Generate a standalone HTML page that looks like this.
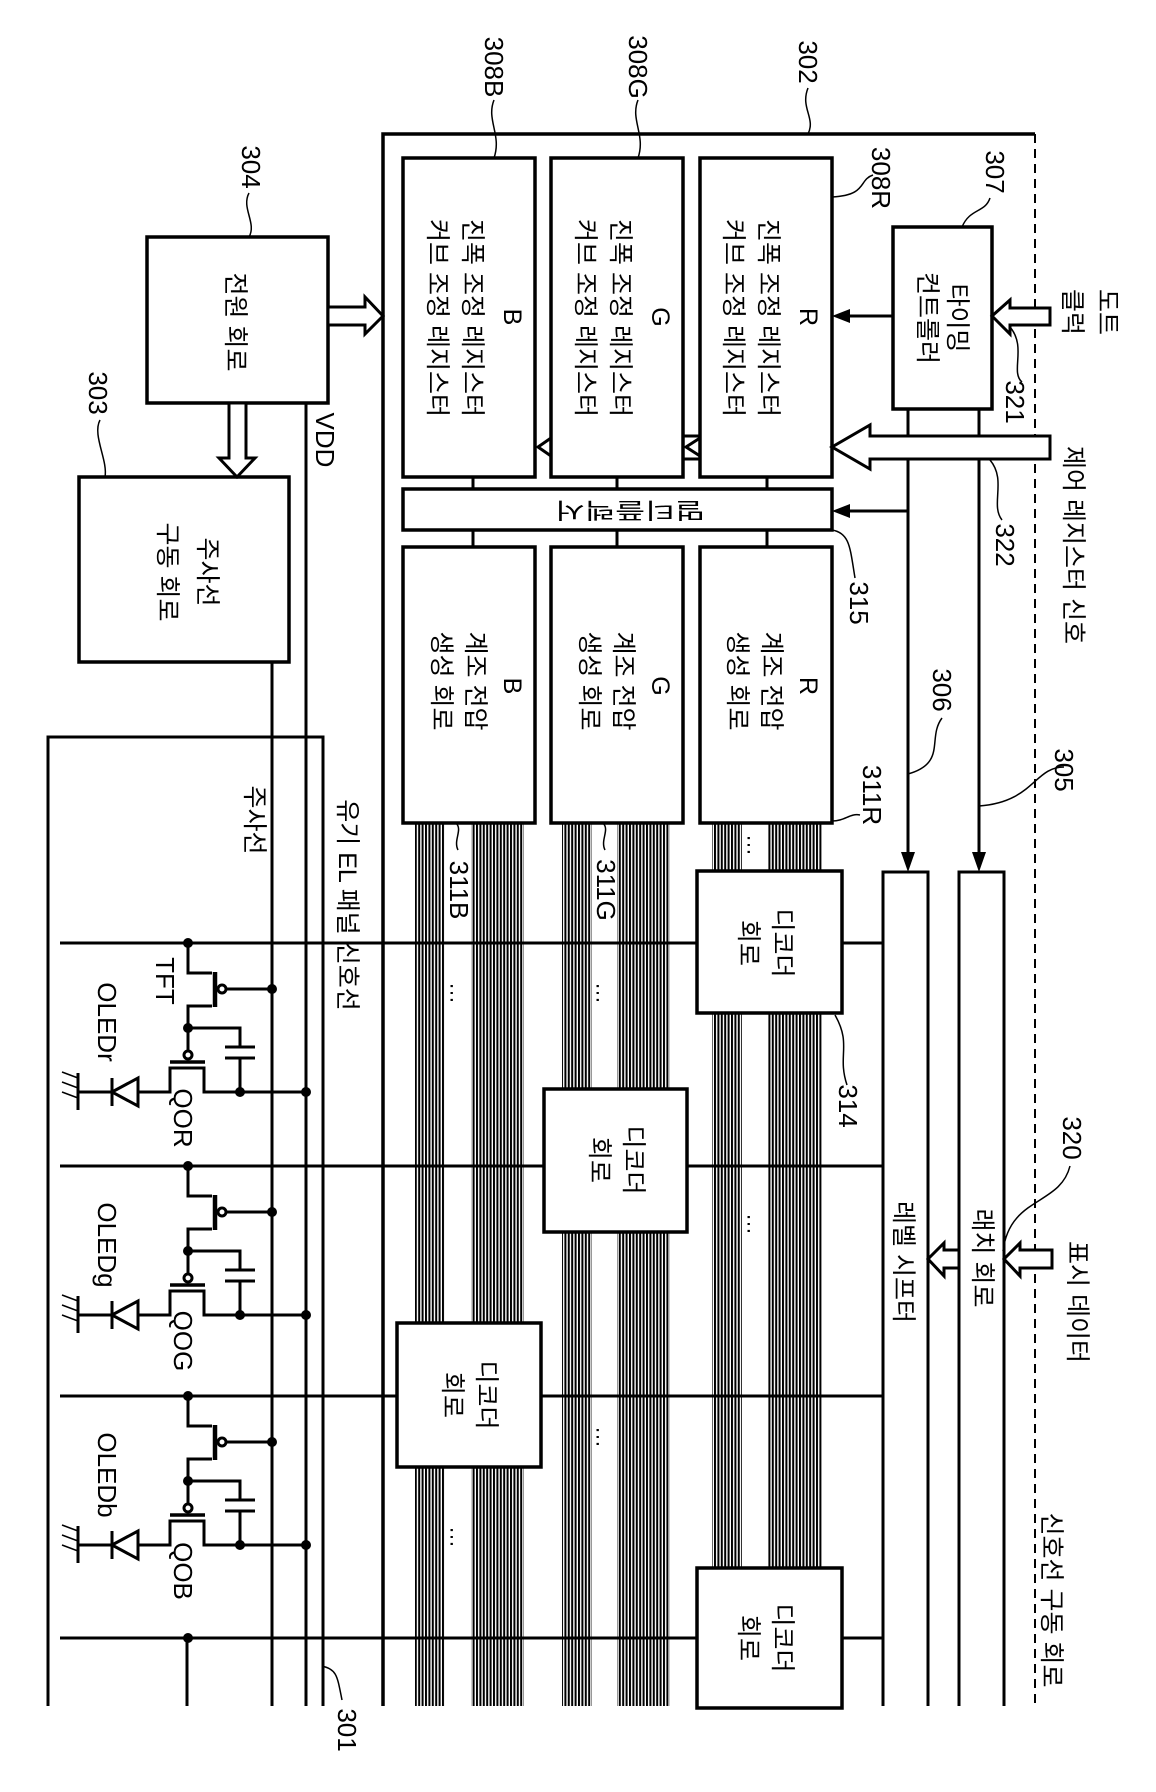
<!DOCTYPE html>
<html><head><meta charset="utf-8"><style>
html,body{margin:0;padding:0;background:#fff;}
svg{display:block;}
text{font-family:"Liberation Sans","Noto Sans CJK KR",sans-serif;fill:#000;}
</style></head><body>
<svg width="1156" height="1792" viewBox="0 0 1156 1792" xmlns="http://www.w3.org/2000/svg">
<defs>
<pattern id="bus" width="3.4" height="10" patternUnits="userSpaceOnUse"><rect x="0" y="0" width="2" height="10" fill="#000"/></pattern>
</defs>
<g fill="none" stroke="#000" stroke-width="3">
<polyline points="1035,134 383,134 383,1706" stroke-width="3.5"/>
<line x1="1035" y1="134" x2="1035" y2="1706" stroke-dasharray="9,6" stroke-width="2"/>
</g>

<g fill="url(#bus)">
<rect x="415" y="823" width="30" height="883"/><rect x="471" y="823" width="53" height="883"/>
<rect x="562" y="823" width="30" height="883"/><rect x="617" y="823" width="53" height="883"/>
<rect x="712" y="823" width="30" height="883"/><rect x="768" y="823" width="54" height="883"/>
</g>
<rect x="448" y="850" width="22" height="80" fill="#fff"/>
<rect x="594" y="850" width="22" height="80" fill="#fff"/>

<g stroke="#000" stroke-width="3" fill="none">
<line x1="60" y1="943" x2="883" y2="943"/>
<line x1="60" y1="1166" x2="883" y2="1166"/>
<line x1="60" y1="1396" x2="883" y2="1396"/>
<line x1="60" y1="1638" x2="883" y2="1638"/>
<polyline points="48,1706 48,737 323,737 323,1706"/>
<line x1="272" y1="662" x2="272" y2="1706"/>
<line x1="306" y1="403" x2="306" y2="1706"/>
<line x1="187" y1="1638" x2="187" y2="1706"/>
<polyline points="883,1706 883,872 928,872 928,1706"/>
<polyline points="959,1706 959,872 1004,872 1004,1706"/>
<line x1="908" y1="409" x2="908" y2="856"/>
<line x1="979" y1="409" x2="979" y2="856"/>
<line x1="908" y1="511" x2="846" y2="511"/>
<line x1="893" y1="316" x2="846" y2="316"/>
</g>
<g fill="#000">
<polygon points="908,872 901,852 915,852"/>
<polygon points="979,872 972,852 986,852"/>
<polygon points="832,511 850,504 850,518"/>
<polygon points="832,316 850,309 850,323"/>
</g>

<g fill="#fff" stroke="#000" stroke-width="3.5">
<rect x="403" y="158" width="132" height="319"/>
<rect x="551" y="158" width="132" height="319"/>
<rect x="700" y="158" width="132" height="319"/>
<rect x="403" y="489" width="429" height="41"/>
<rect x="403" y="547" width="132" height="276"/>
<rect x="551" y="547" width="132" height="276"/>
<rect x="700" y="547" width="132" height="276"/>
<rect x="893" y="227" width="99" height="182"/>
<rect x="147" y="237" width="181" height="166"/>
<rect x="79" y="477" width="210" height="185"/>
<rect x="697" y="871" width="145" height="142"/>
<rect x="544" y="1089" width="143" height="143"/>
<rect x="397" y="1323" width="144" height="144"/>
<rect x="697" y="1568" width="145" height="140"/>
</g>
<g stroke="#000" stroke-width="3">
<line x1="473" y1="477" x2="473" y2="489"/><line x1="617" y1="477" x2="617" y2="489"/><line x1="767" y1="477" x2="767" y2="489"/>
<line x1="473" y1="530" x2="473" y2="547"/><line x1="617" y1="530" x2="617" y2="547"/><line x1="767" y1="530" x2="767" y2="547"/>
</g>

<g fill="#fff" stroke="#000" stroke-width="3">
<polygon points="1050,308 1010,308 1010,300 992,316 1010,334 1010,325 1050,325"/>
<polygon points="1050,436 870,436 870,425 832,447 870,469 870,459 1050,459"/>
<polygon points="328,307 365,307 365,297 383,316 365,334 365,325 328,325"/>
<polygon points="229,403 229,458 219,458 237,477 255,458 246,458 246,403"/>
<polygon points="1052,1250 1020,1250 1020,1243 1004,1259 1020,1276 1020,1268 1052,1268"/>
<polygon points="959,1250 944,1250 944,1243 928,1259 944,1276 944,1268 959,1268"/>
<polyline points="699,436 683,436 683,459 699,459" fill="none"/>
<polyline points="700,438 686,447 700,456" fill="none"/>
<polyline points="551,438 538,447 551,456" fill="none"/>
</g>

<g id="px" fill="none" stroke="#000" stroke-width="3">
<polyline points="188,943 188,973 212,973"/>
<polyline points="212,1006 188,1006 188,1051"/>
<line x1="215" y1="972" x2="215" y2="1007" stroke-width="4.5"/>
<circle cx="222" cy="989" r="4"/>
<line x1="226" y1="989" x2="272" y2="989"/>
<polyline points="188,1028 240,1028 240,1047"/>
<line x1="225" y1="1047" x2="255" y2="1047"/>
<line x1="225" y1="1058" x2="255" y2="1058"/>
<line x1="240" y1="1058" x2="240" y2="1091"/>
<circle cx="188" cy="1055" r="4"/>
<line x1="170" y1="1062" x2="205" y2="1062" stroke-width="3.5"/>
<polyline points="138,1092 170,1092 170,1068 204,1068 204,1092 306,1092"/>
<polygon points="112,1092 138,1078 138,1106"/>
<line x1="112" y1="1078" x2="112" y2="1106"/>
<line x1="112" y1="1092" x2="78" y2="1092"/>
<line x1="78" y1="1073" x2="78" y2="1110"/>
<line x1="78" y1="1078" x2="62" y2="1072" stroke-width="1.5"/>
<line x1="78" y1="1088" x2="62" y2="1082" stroke-width="1.5"/>
<line x1="78" y1="1098" x2="62" y2="1092" stroke-width="1.5"/>
</g>
<g fill="#000">
<circle cx="188" cy="943" r="5"/><circle cx="272" cy="989" r="5"/><circle cx="188" cy="1028" r="5"/><circle cx="240" cy="1092" r="5"/><circle cx="306" cy="1092" r="5"/>
</g>
<use href="#px" transform="translate(0,223)"/>
<use href="#px" transform="translate(0,453)"/>
<g fill="#000">
<circle cx="188" cy="1166" r="5"/><circle cx="272" cy="1212" r="5"/><circle cx="188" cy="1251" r="5"/><circle cx="240" cy="1315" r="5"/><circle cx="306" cy="1315" r="5"/>
<circle cx="188" cy="1396" r="5"/><circle cx="272" cy="1442" r="5"/><circle cx="188" cy="1481" r="5"/><circle cx="240" cy="1545" r="5"/><circle cx="306" cy="1545" r="5"/>
<circle cx="188" cy="1638" r="5"/>
</g>

<g fill="none" stroke="#000" stroke-width="1.5">
<path d="M494,100 c-8,20 8,35 0,58"/>
<path d="M638,100 c-8,20 8,35 0,58"/>
<path d="M808,88 c-8,20 8,30 0,46"/>
<path d="M873,175 c-15,5 -5,20 -41,22"/>
<path d="M990,198 c-5,15 -20,10 -28,29"/>
<path d="M1022,382 c-12,-10 5,-35 -12,-55"/>
<path d="M1002,520 c-12,-15 5,-40 -12,-60"/>
<path d="M855,578 c-5,-30 -5,-45 -23,-48"/>
<path d="M942,718 c-15,20 5,45 -34,56"/>
<path d="M1064,767 c-30,0 -30,35 -85,39"/>
<path d="M860,815 c-10,-2 -15,6 -28,6"/>
<path d="M249,193 c-8,15 8,30 0,44"/>
<path d="M100,420 c-8,15 8,40 5,57"/>
<path d="M847,1085 c-10,-30 5,-40 -12,-70"/>
<path d="M1070,1166 c-10,40 -60,30 -67,85"/>
<path d="M342,1700 c-5,-25 -5,-30 -20,-34"/>
<path d="M458,850 c-5,-10 5,-20 -2,-27"/>
<path d="M605,850 c-5,-10 5,-20 -2,-27"/>
</g>

<g font-size="25">
<text transform="translate(808,317) rotate(90)" text-anchor="middle" dominant-baseline="central">R</text>
<text transform="translate(768,318) rotate(90)" text-anchor="middle" dominant-baseline="central">진폭 조정 레지스터</text>
<text transform="translate(733,318) rotate(90)" text-anchor="middle" dominant-baseline="central">커브 조정 레지스터</text>
<text transform="translate(660,317) rotate(90)" text-anchor="middle" dominant-baseline="central">G</text>
<text transform="translate(620,318) rotate(90)" text-anchor="middle" dominant-baseline="central">진폭 조정 레지스터</text>
<text transform="translate(585,318) rotate(90)" text-anchor="middle" dominant-baseline="central">커브 조정 레지스터</text>
<text transform="translate(512,317) rotate(90)" text-anchor="middle" dominant-baseline="central">B</text>
<text transform="translate(472,318) rotate(90)" text-anchor="middle" dominant-baseline="central">진폭 조정 레지스터</text>
<text transform="translate(437,318) rotate(90)" text-anchor="middle" dominant-baseline="central">커브 조정 레지스터</text>
<text transform="translate(808,686) rotate(90)" text-anchor="middle" dominant-baseline="central">R</text>
<text transform="translate(771,681) rotate(90)" text-anchor="middle" dominant-baseline="central">계조 전압</text>
<text transform="translate(737,681) rotate(90)" text-anchor="middle" dominant-baseline="central">생성 회로</text>
<text transform="translate(660,686) rotate(90)" text-anchor="middle" dominant-baseline="central">G</text>
<text transform="translate(623,681) rotate(90)" text-anchor="middle" dominant-baseline="central">계조 전압</text>
<text transform="translate(589,681) rotate(90)" text-anchor="middle" dominant-baseline="central">생성 회로</text>
<text transform="translate(512,686) rotate(90)" text-anchor="middle" dominant-baseline="central">B</text>
<text transform="translate(475,681) rotate(90)" text-anchor="middle" dominant-baseline="central">계조 전압</text>
<text transform="translate(441,681) rotate(90)" text-anchor="middle" dominant-baseline="central">생성 회로</text>
<text transform="translate(630,510) rotate(180)" text-anchor="middle" dominant-baseline="central" font-size="22" textLength="150" lengthAdjust="spacingAndGlyphs">멀티플렉서</text>
<text transform="translate(957,318) rotate(90)" text-anchor="middle" dominant-baseline="central">타이밍</text>
<text transform="translate(927,318) rotate(90)" text-anchor="middle" dominant-baseline="central">컨트롤러</text>
<text transform="translate(235,322) rotate(90)" text-anchor="middle" dominant-baseline="central">전원 회로</text>
<text transform="translate(207,572) rotate(90)" text-anchor="middle" dominant-baseline="central">주사선</text>
<text transform="translate(167,572) rotate(90)" text-anchor="middle" dominant-baseline="central">구동 회로</text>
<text transform="translate(782,943) rotate(90)" text-anchor="middle" dominant-baseline="central">디코더</text>
<text transform="translate(748,943) rotate(90)" text-anchor="middle" dominant-baseline="central">회로</text>
<text transform="translate(633,1160) rotate(90)" text-anchor="middle" dominant-baseline="central">디코더</text>
<text transform="translate(599,1160) rotate(90)" text-anchor="middle" dominant-baseline="central">회로</text>
<text transform="translate(486,1395) rotate(90)" text-anchor="middle" dominant-baseline="central">디코더</text>
<text transform="translate(452,1395) rotate(90)" text-anchor="middle" dominant-baseline="central">회로</text>
<text transform="translate(782,1638) rotate(90)" text-anchor="middle" dominant-baseline="central">디코더</text>
<text transform="translate(748,1638) rotate(90)" text-anchor="middle" dominant-baseline="central">회로</text>
<text transform="translate(1107,312) rotate(90)" text-anchor="middle" dominant-baseline="central">도트</text>
<text transform="translate(1072,312) rotate(90)" text-anchor="middle" dominant-baseline="central">클럭</text>
<text transform="translate(1073,545) rotate(90)" text-anchor="middle" dominant-baseline="central">제어 레지스터 신호</text>
<text transform="translate(1077,1302) rotate(90)" text-anchor="middle" dominant-baseline="central">표시 데이터</text>
<text transform="translate(982,1258) rotate(90)" text-anchor="middle" dominant-baseline="central">래치 회로</text>
<text transform="translate(903,1262) rotate(90)" text-anchor="middle" dominant-baseline="central">레벨 시프터</text>
<text transform="translate(1051,1600) rotate(90)" text-anchor="middle" dominant-baseline="central">신호선 구동 회로</text>
<text transform="translate(347,905) rotate(90)" text-anchor="middle" dominant-baseline="central">유기 EL 패널 신호선</text>
<text transform="translate(254,820) rotate(90)" text-anchor="middle" dominant-baseline="central">주사선</text>
</g>
<g font-size="26">
<text transform="translate(494,67) rotate(90)" text-anchor="middle" dominant-baseline="central">308B</text>
<text transform="translate(638,67) rotate(90)" text-anchor="middle" dominant-baseline="central">308G</text>
<text transform="translate(808,62) rotate(90)" text-anchor="middle" dominant-baseline="central">302</text>
<text transform="translate(881,178) rotate(90)" text-anchor="middle" dominant-baseline="central">308R</text>
<text transform="translate(995,172) rotate(90)" text-anchor="middle" dominant-baseline="central">307</text>
<text transform="translate(1015,402) rotate(90)" text-anchor="middle" dominant-baseline="central">321</text>
<text transform="translate(1005,545) rotate(90)" text-anchor="middle" dominant-baseline="central">322</text>
<text transform="translate(859,603) rotate(90)" text-anchor="middle" dominant-baseline="central">315</text>
<text transform="translate(942,690) rotate(90)" text-anchor="middle" dominant-baseline="central">306</text>
<text transform="translate(1064,770) rotate(90)" text-anchor="middle" dominant-baseline="central">305</text>
<text transform="translate(872,795) rotate(90)" text-anchor="middle" dominant-baseline="central">311R</text>
<text transform="translate(251,167) rotate(90)" text-anchor="middle" dominant-baseline="central">304</text>
<text transform="translate(98,393) rotate(90)" text-anchor="middle" dominant-baseline="central">303</text>
<text transform="translate(325,440) rotate(90)" text-anchor="middle" dominant-baseline="central">VDD</text>
<text transform="translate(459,890) rotate(90)" text-anchor="middle" dominant-baseline="central">311B</text>
<text transform="translate(606,890) rotate(90)" text-anchor="middle" dominant-baseline="central">311G</text>
<text transform="translate(848,1106) rotate(90)" text-anchor="middle" dominant-baseline="central">314</text>
<text transform="translate(1072,1138) rotate(90)" text-anchor="middle" dominant-baseline="central">320</text>
<text transform="translate(347,1730) rotate(90)" text-anchor="middle" dominant-baseline="central">301</text>
<text transform="translate(165,981) rotate(90)" text-anchor="middle" dominant-baseline="central">TFT</text>
<text transform="translate(107,1022) rotate(90)" text-anchor="middle" dominant-baseline="central">OLEDr</text>
<text transform="translate(183,1118) rotate(90)" text-anchor="middle" dominant-baseline="central">QOR</text>
<text transform="translate(107,1245) rotate(90)" text-anchor="middle" dominant-baseline="central">OLEDg</text>
<text transform="translate(183,1341) rotate(90)" text-anchor="middle" dominant-baseline="central">QOG</text>
<text transform="translate(107,1475) rotate(90)" text-anchor="middle" dominant-baseline="central">OLEDb</text>
<text transform="translate(183,1571) rotate(90)" text-anchor="middle" dominant-baseline="central">QOB</text>
</g>
<g font-size="22">
<text transform="translate(755,845) rotate(90)" text-anchor="middle" dominant-baseline="central">…</text>
<text transform="translate(755,1224) rotate(90)" text-anchor="middle" dominant-baseline="central">…</text>
<text transform="translate(604,993) rotate(90)" text-anchor="middle" dominant-baseline="central">…</text>
<text transform="translate(604,1437) rotate(90)" text-anchor="middle" dominant-baseline="central">…</text>
<text transform="translate(458,993) rotate(90)" text-anchor="middle" dominant-baseline="central">…</text>
<text transform="translate(458,1537) rotate(90)" text-anchor="middle" dominant-baseline="central">…</text>
</g>
</svg>
</body></html>
